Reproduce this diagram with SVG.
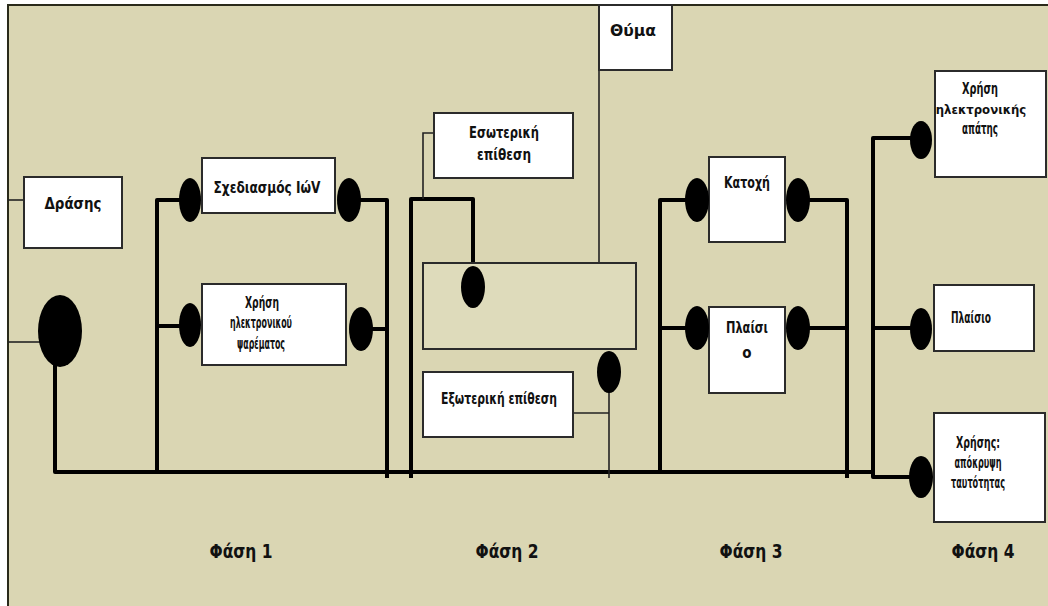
<svg xmlns="http://www.w3.org/2000/svg" width="1048" height="606" viewBox="0 0 1048 606">
<style>
.box{fill:#ffffff;stroke:#2b2b2b;stroke-width:2}
.pane{fill:#dedbbb;stroke:#2b2b2b;stroke-width:2}
.thick{fill:none;stroke:#000;stroke-width:4;stroke-linejoin:round}
.thin{fill:none;stroke:#222;stroke-width:1.6}
.dot{fill:#000}
.t{font-family:"Liberation Sans Narrow","DejaVu Sans Condensed","Liberation Sans",sans-serif;font-weight:bold;fill:#111;text-anchor:middle}
.s13{font-size:13px}
.s15{font-size:15px}
.s16{font-size:16px}
.ph{font-size:19px}
</style>
<rect x="0" y="0" width="1048" height="606" fill="#ffffff"/>
<rect x="8" y="5" width="1040" height="601" fill="#dad6b3"/>
<path d="M8,606 V5 H1048" fill="none" stroke="#2a2a1a" stroke-width="2"/>

<g id="connectors">
  <path class="thin" d="M8,200 H24"/>
  <path class="thin" d="M8,342 H40"/>
  <path class="thick" d="M55,360 V472 H873"/>
  <path class="thick" d="M157,472 V200 H190"/>
  <path class="thick" d="M157,326 H190"/>
  <path class="thick" d="M349,200 H387 V478"/>
  <path class="thick" d="M361,329 H387"/>
  <path class="thick" d="M411,478 V199 H473 V287"/>
  <path class="thin" d="M434,133 H423 V199"/>
  <path class="thin" d="M599,70 V263"/>
  <path class="thin" d="M609,372 V478"/>
  <path class="thin" d="M573,413 H609"/>
  <path class="thick" d="M660,472 V200 H697"/>
  <path class="thick" d="M660,328 H697"/>
  <path class="thick" d="M798,200 H847 V478"/>
  <path class="thick" d="M798,328 H847"/>
  <path class="thick" d="M921,138 H873 V477 H921"/>
  <path class="thick" d="M873,328 H921"/>
</g>

<g id="drasis"><rect class="box" x="24" y="177" width="98" height="71"/><text class="t s16" x="73" y="209" textLength="57" lengthAdjust="spacingAndGlyphs">Δράσης</text></g>
<g id="sxediasmos"><rect class="box" x="202" y="158" width="133" height="55"/><text class="t s15" x="267" y="193" textLength="107" lengthAdjust="spacingAndGlyphs">Σχεδιασμός ΙώV</text></g>
<g id="psarema"><rect class="box" x="202" y="284" width="144" height="81"/><text class="t s15" x="262" y="308" textLength="34" lengthAdjust="spacingAndGlyphs">Χρήση</text><text class="t s15" x="261" y="328" textLength="62" lengthAdjust="spacingAndGlyphs">ηλεκτρονικού</text><text class="t s15" x="261" y="349" textLength="48" lengthAdjust="spacingAndGlyphs">ψαρέματος</text></g>
<g id="esoteriki"><rect class="box" x="434" y="113" width="139" height="65"/><text class="t s15" x="504" y="138" textLength="70" lengthAdjust="spacingAndGlyphs">Εσωτερική</text><text class="t s15" x="504" y="160" textLength="54" lengthAdjust="spacingAndGlyphs">επίθεση</text></g>
<g id="thyma"><rect class="box" x="599" y="5" width="73" height="65"/><text class="t s16" x="633" y="36" textLength="46" lengthAdjust="spacingAndGlyphs">Θύμα</text></g>
<g id="stoxos"><rect class="pane" x="423" y="263" width="213" height="86"/></g>
<g id="exoteriki"><rect class="box" x="423" y="372" width="150" height="65"/><text class="t s15" x="499" y="404" textLength="116" lengthAdjust="spacingAndGlyphs">Εξωτερική επίθεση</text></g>
<g id="katoxi"><rect class="box" x="709" y="157" width="76" height="85"/><text class="t s15" x="747" y="188" textLength="46" lengthAdjust="spacingAndGlyphs">Κατοχή</text></g>
<g id="plaisio3"><rect class="box" x="709" y="307" width="76" height="86"/><text class="t s15" x="747" y="333" textLength="42" lengthAdjust="spacingAndGlyphs">Πλαίσι</text><text class="t s15" x="747" y="358">ο</text></g>
<g id="apati"><rect class="box" x="935" y="71" width="111" height="106"/><text class="t s15" x="980" y="94" textLength="36" lengthAdjust="spacingAndGlyphs">Χρήση</text><text class="t s13" x="981" y="114">ηλεκτρονικής</text><text class="t s15" x="980" y="134" textLength="36" lengthAdjust="spacingAndGlyphs">απάτης</text></g>
<g id="plaisio4"><rect class="box" x="934" y="285" width="100" height="66"/><text class="t s15" x="971" y="323" textLength="40" lengthAdjust="spacingAndGlyphs">Πλαίσιο</text></g>
<g id="apokrypsi"><rect class="box" x="934" y="413" width="111" height="109"/><text class="t s15" x="978" y="448" textLength="44" lengthAdjust="spacingAndGlyphs">Χρήσης:</text><text class="t s15" x="978" y="468" textLength="47" lengthAdjust="spacingAndGlyphs">απόκρυψη</text><text class="t s15" x="978" y="488" textLength="54" lengthAdjust="spacingAndGlyphs">ταυτότητας</text></g>

<g id="junctions">
  <ellipse class="dot" cx="60" cy="331" rx="22" ry="36"/>
  <ellipse class="dot" cx="190" cy="200" rx="11" ry="22"/>
  <ellipse class="dot" cx="349" cy="200" rx="12" ry="22"/>
  <ellipse class="dot" cx="190" cy="325" rx="11" ry="22"/>
  <ellipse class="dot" cx="361" cy="329" rx="12" ry="22"/>
  <ellipse class="dot" cx="473" cy="287" rx="12" ry="21"/>
  <ellipse class="dot" cx="609" cy="372" rx="12" ry="21"/>
  <ellipse class="dot" cx="697" cy="200" rx="12" ry="22"/>
  <ellipse class="dot" cx="798" cy="200" rx="12" ry="22"/>
  <ellipse class="dot" cx="697" cy="328" rx="12" ry="22"/>
  <ellipse class="dot" cx="798" cy="328" rx="12" ry="22"/>
  <ellipse class="dot" cx="921" cy="140" rx="11" ry="19"/>
  <ellipse class="dot" cx="921" cy="329" rx="11" ry="21"/>
  <ellipse class="dot" cx="921" cy="477" rx="12" ry="21"/>
</g>

<g id="phases">
  <text class="t ph" x="241" y="558" textLength="63" lengthAdjust="spacingAndGlyphs">Φάση 1</text>
  <text class="t ph" x="507" y="558" textLength="63" lengthAdjust="spacingAndGlyphs">Φάση 2</text>
  <text class="t ph" x="751" y="558" textLength="63" lengthAdjust="spacingAndGlyphs">Φάση 3</text>
  <text class="t ph" x="983" y="558" textLength="63" lengthAdjust="spacingAndGlyphs">Φάση 4</text>
</g>
</svg>
